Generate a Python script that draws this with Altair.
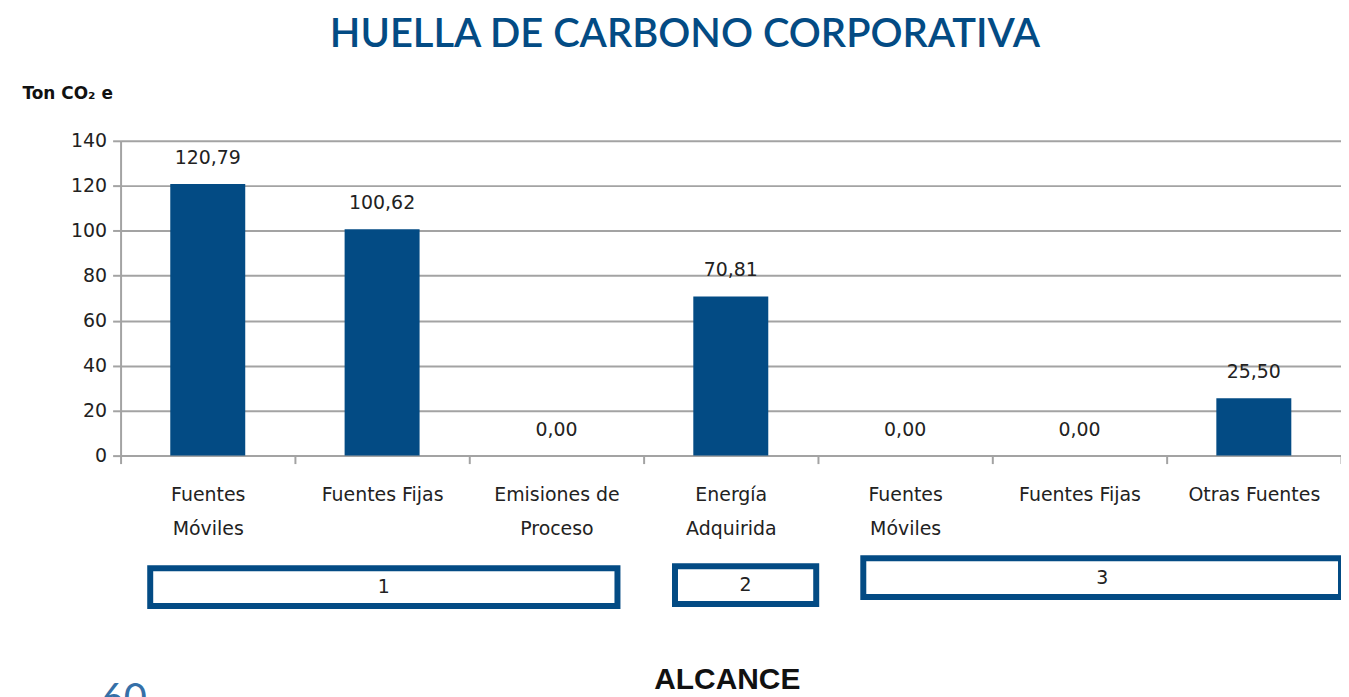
import json
import altair as alt
import pandas as pd

# ---- data ----
label_lines = [["Fuentes", "Móviles"], ["Fuentes Fijas"], ["Emisiones de", "Proceso"],
               ["Energía", "Adquirida"], ["Fuentes", "Móviles"], ["Fuentes Fijas"], ["Otras Fuentes"]]
values = [120.79, 100.62, 0.00, 70.81, 0.00, 0.00, 25.50]
alcance = [1, 1, 1, 2, 3, 3, 3]
group_names = ["1", "2", "3"]
group_start = [0.17, 3.18, 4.26]   # in category units
group_end = [2.85, 3.99, 7.0]
y_ticks = [0, 20, 40, 60, 80, 100, 120, 140]

BLUE = "#034b84"
GRID = "#a3a3a3"
FONT = "DejaVu Sans"
W, H = 1225, 316

df = pd.DataFrame({"idx": list(range(len(values))), "v": values, "alcance": alcance})
labels_js = json.dumps(label_lines, ensure_ascii=False)

x_enc = alt.X(
    "idx:O",
    scale=alt.Scale(paddingInner=0, paddingOuter=0),
    axis=alt.Axis(
        title="ALCANCE", labelExpr=f"{labels_js}[datum.value]", labelAngle=0,
        labelFont=FONT, labelFontSize=19, labelColor="#222", labelLineHeight=34,
        labelPadding=22, labelBaseline="top",
        tickBand="extent", tickSize=8, tickColor=GRID, tickWidth=2,
        domainColor=GRID, domainWidth=2,
        titleFont="Liberation Sans", titleFontSize=30, titleFontWeight="bold",
        titleColor="#111", titleX=W / 2 - 4, titleY=225, titleBaseline="middle", titleAnchor=None,
    ),
)
y_enc = alt.Y(
    "v:Q",
    scale=alt.Scale(domain=[0, 140], nice=False),
    axis=alt.Axis(
        title="Ton CO₂ e", titleAngle=0, titleX=-99, titleY=-47, titleAlign="left",
        titleBaseline="middle", titleFont=FONT, titleFontSize=17, titleFontWeight="bold",
        titleColor="#111",
        values=y_ticks, labelFont=FONT, labelFontSize=19, labelColor="#222", labelPadding=6,
        grid=True, gridColor=GRID, gridWidth=2, tickSize=8, tickColor=GRID, tickWidth=2,
        domainColor=GRID, domainWidth=2,
    ),
)

bars = alt.Chart(df).mark_bar(color=BLUE, width=alt.RelativeBandSize(0.43)).encode(x=x_enc, y=y_enc)
texts = alt.Chart(df).transform_calculate(
    lab="replace(format(datum.v, '.2f'), '.', ',')"
).mark_text(font=FONT, fontSize=19, color="#222", dy=-26, baseline="middle").encode(
    x=alt.X("idx:O"), y=alt.Y("v:Q"), text="lab:N"
)

box_y = [(429, 467), (427, 465), (419, 458)]
box_layers = []
for i, name in enumerate(group_names):
    gdf = pd.DataFrame({"g": [name], "s": [group_start[i]], "e": [group_end[i]]})
    gdf["m"] = (gdf["s"] + gdf["e"]) / 2
    xs = alt.Scale(domain=[0, 7], nice=False, zero=False)
    rect = alt.Chart(gdf).mark_rect(fill="white", stroke=BLUE, strokeWidth=6).encode(
        x=alt.X("s:Q", scale=xs, axis=None), x2="e:Q",
        y=alt.value(box_y[i][0]), y2=alt.value(box_y[i][1]),
    )
    txt = alt.Chart(gdf).mark_text(font=FONT, fontSize=19, color="#222", baseline="middle").encode(
        x=alt.X("m:Q", scale=xs, axis=None),
        y=alt.value((box_y[i][0] + box_y[i][1]) / 2), text="g:N",
    )
    box_layers += [rect, txt]

page = alt.Chart(pd.DataFrame({"p": ["60"]})).mark_text(
    font="Lato", fontSize=40, color="#3570a8", align="left", baseline="top"
).encode(x=alt.value(-20), y=alt.value(541), text="p:N")

main = alt.layer(bars, texts)
boxes = alt.layer(*box_layers)
chart = alt.layer(main, boxes, page).resolve_scale(x="independent").properties(
    width=W, height=H,
    title=alt.TitleParams(
        "HUELLA DE CARBONO CORPORATIVA", font="Lato", fontSize=40, fontWeight=600,
        color=BLUE, anchor="middle", offset=30, dx=-46,
    ),
    autosize=alt.AutoSizeParams(type="none"),
    padding={"left": 113, "top": 132, "right": 0, "bottom": 241},
).configure_view(stroke=None)

chart.save("out.html", embed_options={"renderer": "svg", "actions": False})
